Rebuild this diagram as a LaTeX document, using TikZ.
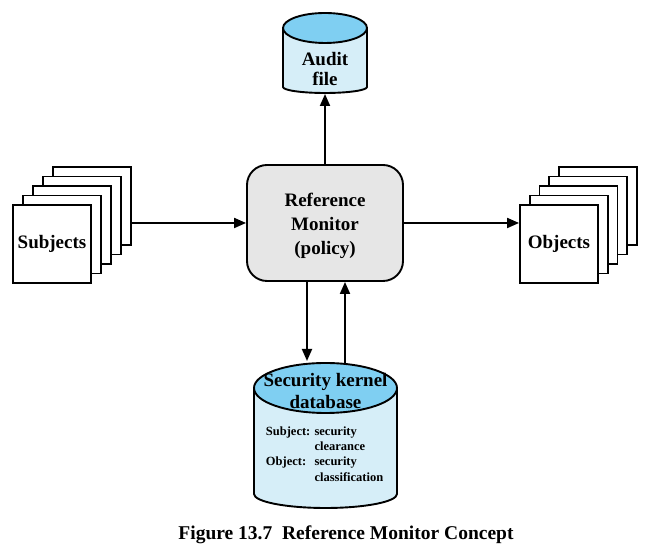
\documentclass[tikz,border=0pt]{standalone}
\usepackage{fontspec}
\setmainfont{Liberation Serif}
\usetikzlibrary{arrows.meta}
\definecolor{cyltop}{HTML}{7FCFF2}
\definecolor{cylbody}{HTML}{D6EEF8}
\definecolor{rmgray}{HTML}{E6E6E6}
\begin{document}
\begin{tikzpicture}[x=1pt,y=1pt,line width=1.9pt,
  pagebox/.style={draw,fill=white,minimum width=78pt,minimum height=78pt,inner sep=0pt,
    font=\fontsize{19}{22}\selectfont\bfseries},
  rmbox/.style={draw,fill=rmgray,rounded corners=20pt,minimum width=156pt,minimum height=116pt},
  rmtxt/.style={align=center,inner sep=0pt,font=\fontsize{19}{24}\selectfont\bfseries},
  bigtxt/.style={align=center,font=\fontsize{19}{21}\selectfont\bfseries},
  smalltxt/.style={inner sep=0pt,font=\fontsize{12.5}{15.3}\selectfont\bfseries},
  arr/.style={-{Triangle[length=12pt,width=10pt]},line width=1.9pt}]
\useasboundingbox (0,0) rectangle (646,548);
% subjects stack
\foreach \i in {4,3,2,1}{
  \node[pagebox] (s\i) at ({52+10*\i},{304+9.5*\i}) {};
}
\node[pagebox] (s0) at (52,304) {Subjects};
% objects stack
\foreach \i in {4,3,2,1}{
  \node[pagebox] (o\i) at ({559+9.75*\i},{304+9.5*\i}) {};
}
\node[pagebox] (o0) at (559,304) {Objects};
% reference monitor
\node[rmbox] (rm) at (325,325) {};
\node[rmtxt] (rmtext) at (325,322) {Reference\\Monitor\\(policy)};
% audit file cylinder
\fill[cylbody] (283,520) -- (283,461) arc[start angle=180,end angle=360,x radius=42,y radius=6] -- (367,520) -- cycle;
\draw (283,520) -- (283,461) arc[start angle=180,end angle=360,x radius=42,y radius=6] -- (367,520);
\draw[fill=cyltop] (325,520) ellipse[x radius=42,y radius=15];
\node[bigtxt] (audit) at (325,479) {Audit\\[-1pt]file};
\coordinate (auditbot) at (325,454);
% security kernel database cylinder
\fill[cylbody] (254,160) -- (254,54) arc[start angle=180,end angle=360,x radius=71.5,y radius=14] -- (397,160) -- cycle;
\draw (254,160) -- (254,54) arc[start angle=180,end angle=360,x radius=71.5,y radius=14] -- (397,160);
\draw[fill=cyltop] (325.5,160) ellipse[x radius=71.5,y radius=25];
\node[bigtxt] (kernel) at (325.5,156.5) {Security kernel\\[1pt]database};
\node[smalltxt,anchor=west] (rows) at (265,93) {\begin{tabular}{@{}l@{ }l@{}}
Subject: & security\\
 & clearance\\
Object: & security\\
 & classification
\end{tabular}};
\coordinate (dbin) at (307,187);
\coordinate (dbout) at (345,185);
% connectors
\draw[arr] (s4.east |- rm.west) -- (rm.west);
\draw[arr] (rm.east) -- (o0.west |- rm.east);
\draw[arr] (rm.north) -- (auditbot);
\draw[arr] (rm.south -| dbin) -- (dbin);
\draw[arr] (dbout) -- (rm.south -| dbout);
% caption
\node[font=\fontsize{19.5}{22}\selectfont\bfseries] (cap) at (346,13) {Figure 13.7\hspace{0.25em} Reference Monitor Concept};
\end{tikzpicture}
\end{document}
